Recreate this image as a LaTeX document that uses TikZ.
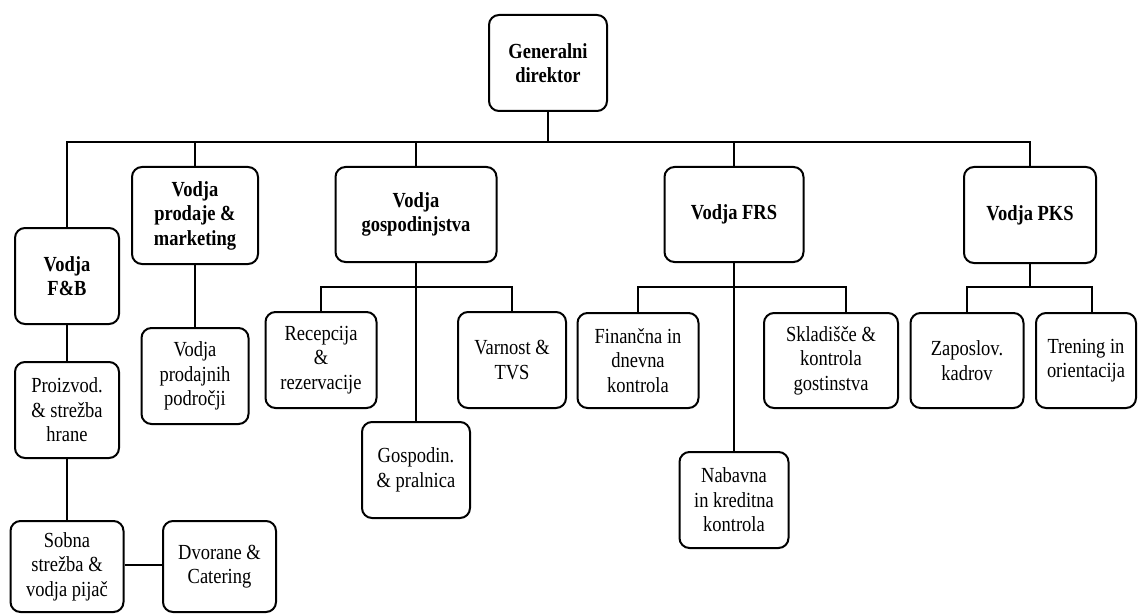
\documentclass[tikz,border=0pt]{standalone}
\usepackage{fontspec}
\setmainfont{Liberation Serif}[FakeStretch=0.86]
\begin{document}
\begin{tikzpicture}[x=1pt,y=-1pt,
  box/.style={draw, line width=2pt, rounded corners=10pt, align=center, inner sep=0pt,
    font=\fontsize{21.5pt}{24.5pt}\selectfont},
  bbox/.style={box, font=\fontsize{21.5pt}{24.5pt}\selectfont\bfseries},
  conn/.style={line width=2pt}]
\useasboundingbox (0,0) rectangle (1138,615);
% level 0
\node[bbox, minimum width=118pt, minimum height=96pt] (gen) at (548,63) {Generalni\\direktor};
% level 1
\node[bbox, minimum width=104pt, minimum height=96pt] (fb) at (67,276) {Vodja\\F\&B};
\node[bbox, minimum width=126pt, minimum height=97pt] (sales) at (195,215.5) {Vodja\\prodaje \&\\marketing};
\node[bbox, minimum width=161pt, minimum height=95pt] (gosp) at (416,214.5) {Vodja\\gospodinjstva};
\node[bbox, minimum width=139pt, minimum height=95pt] (frs) at (734,214.5) {Vodja FRS};
\node[bbox, minimum width=132pt, minimum height=96pt] (pks) at (1030,215) {Vodja PKS};
% level 2
\node[box, minimum width=104pt, minimum height=96pt] (proiz) at (67,410) {Proizvod.\\\& strežba\\hrane};
\node[box, minimum width=113pt, minimum height=91pt] (sobna) at (67,566.5) {Sobna\\strežba \&\\vodja pijač};
\node[box, minimum width=113pt, minimum height=91pt] (dvor) at (219.5,566.5) {Dvorane \&\\Catering};
\node[box, minimum width=107pt, minimum height=96pt] (prod) at (195,376) {Vodja\\prodajnih\\področji};
\node[box, minimum width=111pt, minimum height=96pt] (rec) at (321,360) {Recepcija\\\&\\rezervacije};
\node[box, minimum width=108pt, minimum height=96pt] (varn) at (512,360) {Varnost \&\\TVS};
\node[box, minimum width=108pt, minimum height=96pt] (gpral) at (416,470) {Gospodin.\\\& pralnica};
\node[box, minimum width=121pt, minimum height=95pt] (fin) at (638,360.5) {Finančna in\\dnevna\\kontrola};
\node[box, minimum width=134pt, minimum height=95pt] (skl) at (831,360.5) {Skladišče \&\\kontrola\\gostinstva};
\node[box, minimum width=109pt, minimum height=96pt] (nab) at (734,500) {Nabavna\\in kreditna\\kontrola};
\node[box, minimum width=113pt, minimum height=95pt] (zap) at (967,360.5) {Zaposlov.\\kadrov};
\node[box, minimum width=100pt, minimum height=95pt] (tren) at (1086,360.5) {Trening in\\orientacija};
% connectors
\coordinate (bus) at (548,142);
\draw[conn] (gen.south) -- (bus);
\draw[conn] (fb.north) |- (bus) -| (pks.north);
\draw[conn] (sales.north) -- (sales.north |- bus);
\draw[conn] (gosp.north) -- (gosp.north |- bus);
\draw[conn] (frs.north) -- (frs.north |- bus);
\draw[conn] (fb.south) -- (proiz.north);
\draw[conn] (proiz.south) -- (proiz.south |- sobna.north);
\draw[conn] ([yshift=1.5pt]sobna.east) -- ([yshift=1.5pt]dvor.west);
\draw[conn] (sales.south) -- (sales.south |- prod.north);
\coordinate (gb) at (416,287);
\draw[conn] (gosp.south) -- (gosp.south |- gpral.north);
\draw[conn] (rec.north) |- (gb) -| (varn.north);
\coordinate (fb2) at (734,287);
\draw[conn] (frs.south) -- (nab.north);
\draw[conn] (fin.north) |- (fb2) -| ([xshift=15pt]skl.north);
\coordinate (pb) at (1030,287);
\draw[conn] (pks.south) -- (pb);
\draw[conn] (zap.north) |- (pb) -| ([xshift=6pt]tren.north);
\end{tikzpicture}
\end{document}
